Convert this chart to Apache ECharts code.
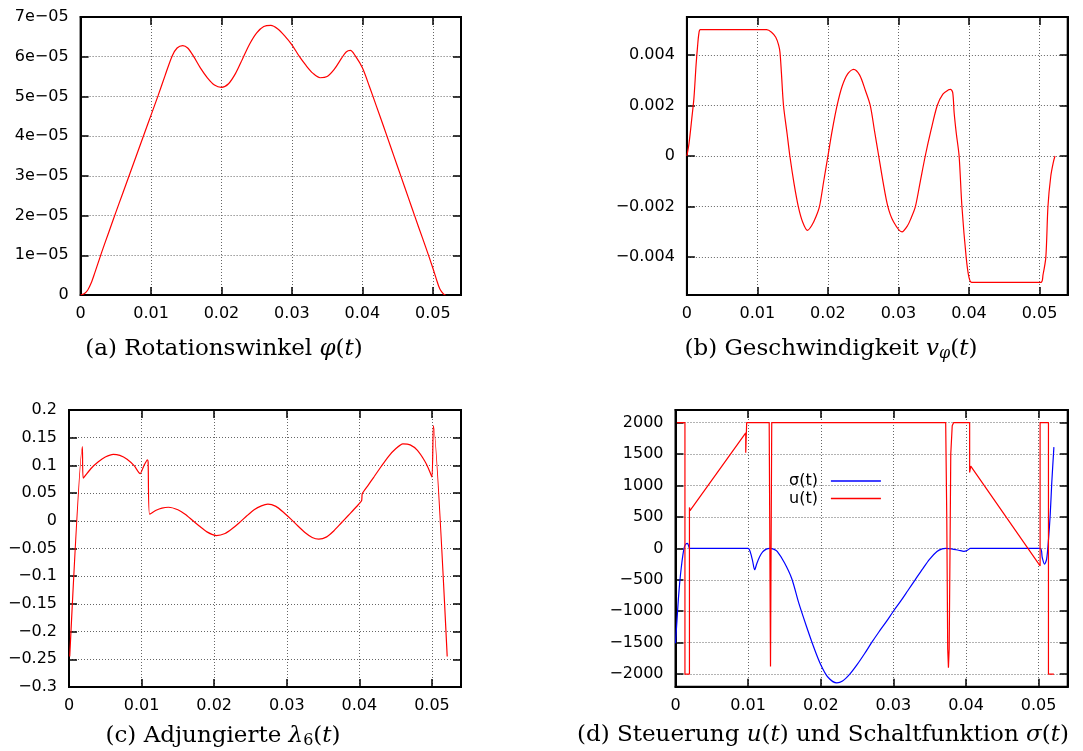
<!DOCTYPE html>
<html>
<head>
<meta charset="utf-8">
<title>Rotationswinkel, Geschwindigkeit, Adjungierte, Steuerung</title>
<script src="https://cdn.jsdelivr.net/npm/echarts@6.0.0/dist/echarts.min.js"></script>
<style>
  html, body { margin: 0; padding: 0; background: #fff; }
  #chart { width: 1083px; height: 751px; }
</style>
</head>
<body>
<div id="chart"></div>
<script>
// ---- shared tick definitions ----
const xTicks = [0, 0.01, 0.02, 0.03, 0.04, 0.05];
const xTickLabels = ['0', '0.01', '0.02', '0.03', '0.04', '0.05'];

const yTicksA = [0, 1e-5, 2e-5, 3e-5, 4e-5, 5e-5, 6e-5, 7e-5];
const yTickLabelsA = ['0', '1e\u221205', '2e\u221205', '3e\u221205', '4e\u221205', '5e\u221205', '6e\u221205', '7e\u221205'];

const yTicksB = [-0.004, -0.002, 0, 0.002, 0.004];
const yTickLabelsB = ['\u22120.004', '\u22120.002', '0', '0.002', '0.004'];

const yTicksC = [-0.3, -0.25, -0.2, -0.15, -0.1, -0.05, 0, 0.05, 0.1, 0.15, 0.2];
const yTickLabelsC = ['\u22120.3', '\u22120.25', '\u22120.2', '\u22120.15', '\u22120.1', '\u22120.05', '0', '0.05', '0.1', '0.15', '0.2'];

const yTicksD = [-2000, -1500, -1000, -500, 0, 500, 1000, 1500, 2000];
const yTickLabelsD = ['\u22122000', '\u22121500', '\u22121000', '\u2212500', '0', '500', '1000', '1500', '2000'];

// ---- (a) rotation angle phi(t) ----
const tA = [0, 0.0005, 0.001, 0.0015, 0.002, 0.003, 0.004, 0.005, 0.006, 0.007, 0.008, 0.009, 0.010, 0.011, 0.012, 0.013, 0.0137, 0.0145, 0.0152,
  0.016, 0.017, 0.018, 0.019, 0.020, 0.021, 0.022, 0.023, 0.024, 0.025, 0.026, 0.027, 0.028, 0.029, 0.030, 0.031, 0.032, 0.033, 0.034, 0.035, 0.036, 0.037,
  0.0377, 0.0383, 0.039, 0.040, 0.041, 0.042, 0.043, 0.044, 0.045, 0.046, 0.047, 0.048, 0.049, 0.050, 0.0505, 0.051, 0.0515, 0.0518];
const phiA = [0, 0.03e-5, 0.12e-5, 0.3e-5, 0.55e-5, 1.08e-5, 1.58e-5, 2.08e-5, 2.57e-5, 3.06e-5, 3.55e-5, 4.04e-5, 4.53e-5, 5.02e-5, 5.53e-5, 6.02e-5, 6.22e-5, 6.28e-5, 6.22e-5,
  6.02e-5, 5.72e-5, 5.47e-5, 5.29e-5, 5.23e-5, 5.32e-5, 5.58e-5, 5.95e-5, 6.32e-5, 6.6e-5, 6.76e-5, 6.79e-5, 6.7e-5, 6.52e-5, 6.3e-5, 6.02e-5, 5.78e-5, 5.58e-5, 5.47e-5, 5.5e-5, 5.68e-5, 5.95e-5,
  6.12e-5, 6.16e-5, 6.02e-5, 5.72e-5, 5.25e-5, 4.75e-5, 4.25e-5, 3.74e-5, 3.23e-5, 2.72e-5, 2.21e-5, 1.7e-5, 1.2e-5, 0.68e-5, 0.4e-5, 0.15e-5, 0.03e-5, 0];

// ---- (b) angular velocity v_phi(t) ----
const tB = [0, 0.0003, 0.0007, 0.001, 0.0013, 0.0015, 0.0017, 0.0019, 0.006, 0.0113, 0.012, 0.0126, 0.0130, 0.0132, 0.0134, 0.0137, 0.0142, 0.0146,
  0.0152, 0.0158, 0.0164, 0.0171, 0.0177, 0.0183, 0.0188, 0.0194, 0.0200, 0.0206, 0.0213, 0.022, 0.0228, 0.02365,
  0.0245, 0.0253, 0.026, 0.0266, 0.0272, 0.0278, 0.0285, 0.0293, 0.0305, 0.0313, 0.0318, 0.0324, 0.0331, 0.0338, 0.0346, 0.0355, 0.0363, 0.0371,
  0.0374, 0.0377, 0.0379, 0.0382, 0.0386, 0.0390, 0.0396, 0.0400, 0.0404, 0.045, 0.0502, 0.0505, 0.0509, 0.0512, 0.0516, 0.0520, 0.0522];
const vB = [0, 0.0005, 0.0015, 0.0023, 0.0036, 0.0043, 0.00485, 0.005, 0.005, 0.005, 0.0049, 0.0047, 0.0044, 0.0041, 0.0033, 0.002, 0.0009, 0,
  -0.0011, -0.002, -0.0026, -0.00294, -0.00275, -0.0024, -0.002, -0.001, 0, 0.001, 0.002, 0.00275, 0.00325, 0.00343,
  0.0032, 0.0026, 0.002, 0.001, 0, -0.001, -0.002, -0.0026, -0.003, -0.00275, -0.00245, -0.002, -0.001, 0, 0.001, 0.002, 0.00245, 0.00262,
  0.00264, 0.0025, 0.0017, 0.0009, 0, -0.002, -0.004, -0.0048, -0.005, -0.005, -0.005, -0.0047, -0.004, -0.002, -0.0008, -0.0002, 0];

// ---- (c) adjoint lambda_6(t) ----
const tC = [0.0001, 0.00184, 0.00195, 0.003, 0.004, 0.005, 0.0061, 0.007, 0.008, 0.009, 0.0098, 0.0103, 0.0108, 0.0109, 0.0111, 0.012, 0.0128, 0.0137,
  0.015, 0.016, 0.017, 0.018, 0.019, 0.0203, 0.0215, 0.0225, 0.0235, 0.0245, 0.0255, 0.0265, 0.0274, 0.0285, 0.0295, 0.0305, 0.0315, 0.0325, 0.0335, 0.0344,
  0.0355, 0.0365, 0.0375, 0.0385, 0.0395, 0.0403, 0.0404, 0.0412, 0.042, 0.043, 0.044, 0.045, 0.046, 0.047, 0.048, 0.049, 0.0495, 0.0500, 0.0502, 0.0521];
const lamC = [-0.245, 0.134, 0.077, 0.094, 0.106, 0.115, 0.120, 0.118, 0.111, 0.099, 0.085, 0.099, 0.110, 0.106, 0.012, 0.019, 0.023, 0.0245,
  0.020, 0.012, 0.001, -0.010, -0.020, -0.0266, -0.023, -0.014, -0.003, 0.009, 0.020, 0.027, 0.030, 0.026, 0.016, 0.004, -0.009, -0.021, -0.030, -0.0331,
  -0.029, -0.018, -0.004, 0.010, 0.024, 0.036, 0.049, 0.064, 0.079, 0.098, 0.116, 0.130, 0.1387, 0.137, 0.127, 0.108, 0.095, 0.079, 0.172, -0.245];

// ---- (d) control u(t) and switching function sigma(t) ----
const tU = [0.0002, 0.0013, 0.0013, 0.00192, 0.00192, 0.002, 0.00967, 0.00967, 0.0098, 0.0098, 0.0129, 0.01308, 0.01325,
  0.0372, 0.03735, 0.03748, 0.03758, 0.03768, 0.0378, 0.0379, 0.0381, 0.0383, 0.0405, 0.0405, 0.04065, 0.0502, 0.0502, 0.05135, 0.05135, 0.0521];
const uU = [2000, 2000, -2000, -2000, 650, 600, 1836, 1519, 1519, 2000, 2000, -1880, 2000,
  2000, 500, -1600, -1900, -1600, 0, 1500, 1950, 2000, 2000, 1206, 1307, -280, 2000, 2000, -2000, -2000];

const tS = [0, 0.0002, 0.0004, 0.0006, 0.0008, 0.001, 0.0012, 0.0014, 0.00165, 0.0018, 0.0019, 0.002,
  0.0100, 0.0103, 0.0106, 0.0109, 0.0112, 0.0116, 0.012, 0.0125, 0.013, 0.0135, 0.014,
  0.015, 0.016, 0.017, 0.018, 0.019, 0.020, 0.021, 0.0222,
  0.023, 0.024, 0.025, 0.026, 0.027, 0.028, 0.029, 0.030, 0.031, 0.032, 0.033, 0.034, 0.035, 0.036, 0.0367, 0.0372,
  0.038, 0.039, 0.0397, 0.0402, 0.0406, 0.0502, 0.0505, 0.0508, 0.0511, 0.05135, 0.0516, 0.0518, 0.0521];
const sigS = [-1510, -1150, -800, -520, -300, -120, 10, 65, 80, 40, 8, 0,
  0, -60, -190, -340, -240, -130, -55, -12, 0, -12, -50,
  -230, -480, -880, -1230, -1560, -1850, -2050, -2140,
  -2110, -2000, -1850, -1680, -1500, -1330, -1170, -1000, -840, -670, -500, -330, -170, -50, -8, 0,
  -8, -30, -48, -30, 0, 0, -150, -250, -170, 130, 550, 1030, 1610];

// ---- helpers ----
const SANS = 'DejaVu Sans';
const SERIF = 'DejaVu Serif';
const X_MAX = 0.054;

function zip(xs, ys) { return xs.map((x, i) => [x, ys[i]]); }

function labelFor(ticks, labels) {
  return function (v) {
    for (let i = 0; i < ticks.length; i++) {
      if (Math.abs(ticks[i] - v) < 1e-12) return labels[i];
    }
    return '';
  };
}

function frameLine() { return { show: true, onZero: false, lineStyle: { color: '#000', width: 2 } }; }
function ticksAt(values) {
  return { show: true, inside: true, length: 8, customValues: values, lineStyle: { color: '#000', width: 1.5 } };
}
function gridLines() { return { show: true, lineStyle: { color: '#666', type: [1, 2], width: 1 } }; }

function xAxes(gi) {
  return [
    {
      type: 'value', gridIndex: gi, min: 0, max: X_MAX, position: 'bottom',
      axisLine: frameLine(),
      axisTick: ticksAt(xTicks),
      axisLabel: { customValues: xTicks, formatter: labelFor(xTicks, xTickLabels), fontFamily: SANS, fontSize: 16, color: '#000', margin: 11 },
      splitLine: gridLines()
    },
    {
      type: 'value', gridIndex: gi, min: 0, max: X_MAX, position: 'top',
      axisLine: frameLine(),
      axisTick: ticksAt(xTicks),
      axisLabel: { show: false },
      splitLine: { show: false }
    }
  ];
}

function yAxes(gi, min, max, ticks, labels) {
  return [
    {
      type: 'value', gridIndex: gi, min: min, max: max, position: 'left',
      axisLine: frameLine(),
      axisTick: ticksAt(ticks),
      axisLabel: { customValues: ticks, formatter: labelFor(ticks, labels), fontFamily: SANS, fontSize: 16, color: '#000', margin: 12 },
      splitLine: gridLines()
    },
    {
      type: 'value', gridIndex: gi, min: min, max: max, position: 'right',
      axisLine: frameLine(),
      axisTick: ticksAt(ticks),
      axisLabel: { show: false },
      splitLine: { show: false }
    }
  ];
}

function curve(name, gi, data, color, smooth) {
  return {
    name: name, type: 'line', xAxisIndex: 2 * gi, yAxisIndex: 2 * gi,
    data: data, symbol: 'none', showSymbol: false,
    smooth: smooth,
    lineStyle: { color: color, width: 1.2 }, itemStyle: { color: color },
    emphasis: { disabled: true }, silent: true
  };
}

function caption(x, y, text) {
  const base = { fontFamily: SERIF, fontSize: 23, fill: '#000' };
  return {
    type: 'text', x: x, y: y, silent: true,
    style: {
      text: text, fontFamily: SERIF, fontSize: 23, fill: '#000', align: 'center', verticalAlign: 'middle',
      rich: {
        i: Object.assign({}, base, { fontStyle: 'italic' }),
        s: { fontFamily: SERIF, fontSize: 16, fontStyle: 'italic', fill: '#000', padding: [10, 0, 0, 0] },
        n: { fontFamily: SERIF, fontSize: 16, fill: '#000', padding: [10, 0, 0, 0] }
      }
    }
  };
}

const gridBox = { show: true, borderColor: '#000', borderWidth: 2, backgroundColor: 'transparent' };

const option = {
  animation: false,
  backgroundColor: '#fff',
  grid: [
    Object.assign({ left: 80.6, top: 17, width: 380.4, height: 278 }, gridBox),
    Object.assign({ left: 686.9, top: 17, width: 380.8, height: 278 }, gridBox),
    Object.assign({ left: 69, top: 410, width: 392, height: 277 }, gridBox),
    Object.assign({ left: 675.5, top: 410, width: 392.2, height: 276.7 }, gridBox)
  ],
  xAxis: [].concat(xAxes(0), xAxes(1), xAxes(2), xAxes(3)),
  yAxis: [].concat(
    yAxes(0, 0, 7e-5, yTicksA, yTickLabelsA),
    yAxes(1, -0.0055, 0.0055, yTicksB, yTickLabelsB),
    yAxes(2, -0.3, 0.2, yTicksC, yTickLabelsC),
    yAxes(3, -2200, 2200, yTicksD, yTickLabelsD)
  ),
  legend: {
    data: ['\u03c3(t)', 'u(t)'],
    orient: 'vertical', left: 789, top: 473, align: 'right', padding: 0,
    icon: 'rect', itemWidth: 50, itemHeight: 1.5, itemGap: 1.5,
    selectedMode: false,
    textStyle: { fontFamily: SANS, fontSize: 16, color: '#000', lineHeight: 16, padding: [0, 8, 0, 0] }
  },
  series: [
    curve('phi', 0, zip(tA, phiA), '#ff0000', 0.3),
    curve('v', 1, zip(tB, vB), '#ff0000', 0.3),
    curve('lambda', 2, zip(tC, lamC), '#ff0000', 0.2),
    curve('\u03c3(t)', 3, zip(tS, sigS), '#0000ff', 0.3),
    curve('u(t)', 3, zip(tU, uU), '#ff0000', false)
  ],
  graphic: [
    caption(224, 349, '(a) Rotationswinkel {i|\u03c6}({i|t})'),
    caption(831, 349, '(b) Geschwindigkeit {i|v}{s|\u03c6}({i|t})'),
    caption(223, 736, '(c) Adjungierte {i|\u03bb}{n|6}({i|t})'),
    caption(823, 735, '(d) Steuerung {i|u}({i|t}) und Schaltfunktion {i|\u03c3}({i|t})')
  ]
};

const chart = echarts.init(document.getElementById('chart'), null, { renderer: 'canvas' });
chart.setOption(option);
</script>
</body>
</html>
